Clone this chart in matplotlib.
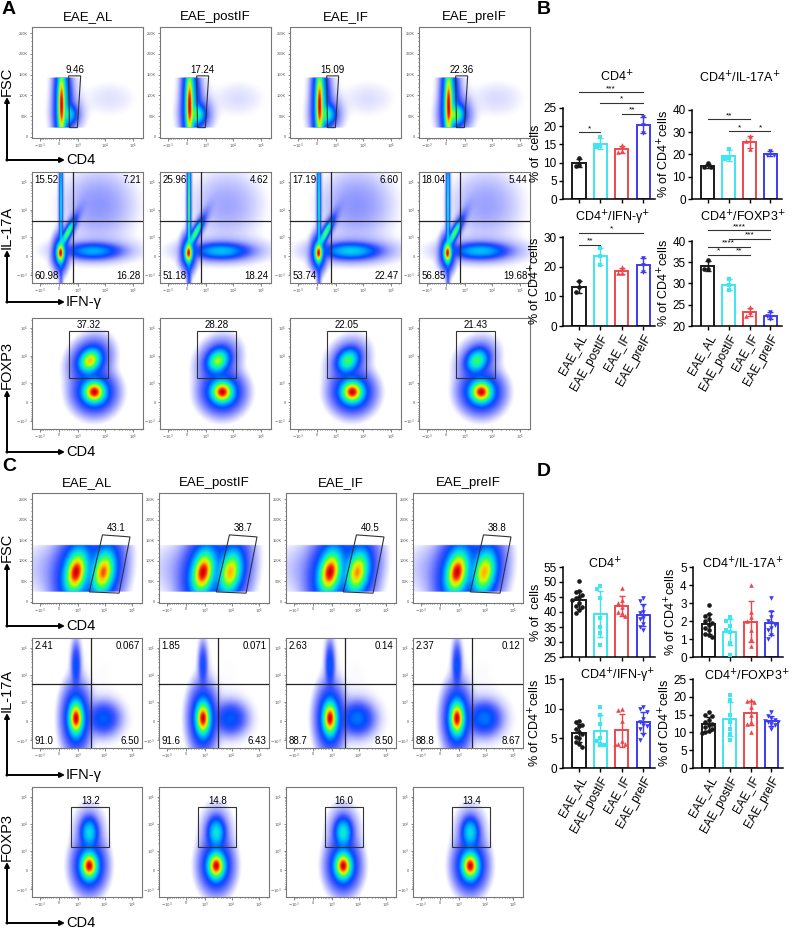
import numpy as np
import matplotlib
matplotlib.use("Agg")
import matplotlib.pyplot as plt
from matplotlib.colors import LinearSegmentedColormap
from matplotlib.patches import Polygon

plt.rcParams["font.family"] = ["Liberation Sans", "DejaVu Sans"]

# ==========================================================
# Groups
# ==========================================================

groups = ["EAE_AL", "EAE_postIF", "EAE_IF", "EAE_preIF"]
group_colors = ["#1a1a1a", "#3ee6f0", "#f0464b", "#3c3cf0"]
group_markers = ["o", "s", "^", "v"]

# ==========================================================
# Flow cytometry gate frequencies (%)
# ==========================================================

A_cd4_gate = [9.46, 17.24, 15.09, 22.36]
A_ul = [15.52, 25.96, 17.19, 18.04]
A_ur = [7.21, 4.62, 6.60, 5.44]
A_ll = [60.98, 51.18, 53.74, 56.85]
A_lr = [16.28, 18.24, 22.47, 19.68]
A_foxp3_gate = [37.32, 28.28, 22.05, 21.43]

C_cd4_gate = ["43.1", "38.7", "40.5", "38.8"]
C_ul = ["2.41", "1.85", "2.63", "2.37"]
C_ur = ["0.067", "0.071", "0.14", "0.12"]
C_ll = ["91.0", "91.6", "88.7", "88.8"]
C_lr = ["6.50", "6.43", "8.50", "8.67"]
C_foxp3_gate = ["13.2", "14.8", "16.0", "13.4"]

# gates (data units)
A_cd4_gate_x = [380, 1250, 930, 420]
A_cd4_gate_y = [147e3, 147e3, 22e3, 22e3]
A_quad = (600, 3900)
A_foxp3_box = (400, 12000, 1550, 81000)

C_cd4_gate_x = [8300, 84000, 33500, 2730]
C_cd4_gate_y = [163e3, 158e3, 21e3, 24e3]
C_quad = (3280, 4670)
C_foxp3_box = (517, 15000, 1400, 43800)

# cell clouds: centre (data units), spread (axes fraction), tilt (deg)
A_fsc_cx = [90, 170, 376, 14600]
A_fsc_cy = [77e3, 80e3, 53e3, 91e3]
A_fsc_sx = [0.016, 0.035, 0.035, 0.17]
A_fsc_sy = [0.15, 0.15, 0.04, 0.11]

A_il17_cx = [54, 330, 70, 3600, 5760]
A_il17_cy = [110, 1400, 14600, 180, 14600]
A_il17_sx = [0.016, 0.013, 0.006, 0.11, 0.18]
A_il17_sy = [0.04, 0.06, 0.25, 0.032, 0.18]
A_il17_tilt = [0, 27, 0, 0, 0]

A_foxp3_cx = [4000, 2800]
A_foxp3_cy = [380, 6300]
A_foxp3_sx = [0.045, 0.04]
A_foxp3_sy = [0.045, 0.05]
A_foxp3_tilt = [0, 35]

C_fsc_cx = [850, 9000, 300]
C_fsc_cy = [72e3, 72e3, 80e3]
C_fsc_sx = [0.045, 0.045, 0.2]
C_fsc_sy = [0.09, 0.09, 0.15]
C_fsc_tilt = [10, 10, 0]

C_il17_cx = [850, 850, 9000, 8000]
C_il17_cy = [106, 23000, 100, 20000]
C_il17_sx = [0.03, 0.02, 0.07, 0.15]
C_il17_sy = [0.07, 0.1, 0.07, 0.15]

C_foxp3_cx = [2730, 2730]
C_foxp3_cy = [151, 4800]
C_foxp3_sx = [0.035, 0.035]
C_foxp3_sy = [0.055, 0.06]

# ==========================================================
# Bar chart values (% of cells, one value per mouse)
# ==========================================================

B_cd4 = [[11.3, 9.4, 9.2], [17.0, 14.5, 14.2], [14.8, 13.2, 12.9], [22.5, 20.4, 18.2]]
B_il17 = [[16.0, 14.6, 14.3], [22.4, 18.3, 17.9], [28.2, 26.2, 22.6], [21.6, 19.9, 19.6]]
B_ifng = [[15.3, 13.0, 11.4], [26.3, 23.5, 20.6], [19.8, 17.9, 17.8], [22.8, 20.5, 18.3]]
B_foxp3 = [[35.6, 33.3, 33.5], [31.0, 29.6, 28.4], [24.4, 23.2, 22.4], [23.3, 22.4, 21.7]]

B_cd4_sig = [(0, 1, 18.3, "*"), (0, 3, 29.3, "***"), (1, 3, 26.4, "*"), (2, 3, 23.4, "**")]
B_il17_sig = [(0, 2, 35.8, "**"), (1, 2, 30.4, "*"), (2, 3, 30.4, "*")]
B_ifng_sig = [(0, 1, 27.4, "**"), (0, 3, 31.3, "*")]
B_foxp3_sig = [(0, 3, 42.5, "****"), (1, 3, 40.4, "***"), (0, 2, 38.6, "****"),
               (0, 1, 36.7, "*"), (1, 2, 36.7, "**")]

D_cd4 = [[50.2, 47, 46.5, 45.5, 45, 44.5, 44, 43, 42, 41.5, 40.5, 39.5],
         [48.5, 47.5, 44.5, 38, 35, 33, 29],
         [48, 44, 43, 41.5, 40, 39.5, 38.5],
         [44.5, 43.5, 42, 40, 39.5, 38, 37.5, 36, 35, 34]]
D_il17 = [[2.9, 2.4, 2.3, 2.1, 2.0, 1.9, 1.8, 1.6, 1.5, 1.3, 1.2, 1.1],
          [2.2, 2.0, 1.7, 1.5, 1.4, 0.8, 0.1],
          [4.0, 2.5, 2.2, 2.0, 1.5, 1.0, 0.6],
          [3.3, 2.5, 2.2, 2.0, 1.9, 1.8, 1.6, 1.5, 1.2, 1.0]]
D_ifng = [[8.0, 7.7, 7.3, 7.0, 6.5, 6.0, 5.8, 5.2, 5.0, 4.3, 4.0, 3.5],
          [10.2, 9.0, 7.5, 5.0, 4.5, 4.0, 3.8],
          [10.0, 9.8, 8.0, 4.5, 4.0, 4.0, 4.0],
          [10.2, 10.0, 9.5, 8.2, 7.8, 7.2, 7.0, 6.5, 5.5, 4.8]]
D_foxp3 = [[15.8, 15.0, 14.5, 13.5, 13.0, 12.5, 12.0, 11.5, 11.0, 10.5, 10.0, 9.8],
           [20.5, 19.0, 15.0, 13.0, 11.0, 9.5, 8.0],
           [19.0, 18.8, 18.5, 17.0, 15.0, 13.0, 12.5, 10.0],
           [15.8, 14.5, 14.0, 13.5, 13.2, 13.0, 12.8, 12.5, 12.0, 11.0]]

# ==========================================================
# Figure
# ==========================================================

W, H = 794, 930
fig = plt.figure(figsize=(W / 100, H / 100), dpi=100)


def px_axes(x0, y0, w, h):
    return fig.add_axes([x0 / W, 1 - (y0 + h) / H, w / W, h / H])


overlay = fig.add_axes([0, 0, 1, 1], zorder=10)
overlay.set_xlim(0, W)
overlay.set_ylim(H, 0)
overlay.axis("off")
overlay.patch.set_alpha(0)

# ==========================================================
# Flow scales
# ==========================================================

LIM = (-1950, 2.3e5)
FSC_LIM = (-3e3, 265e3)


def fwd(v):
    return np.arcsinh(np.asarray(v, float) / 420) / np.log(10)


def inv(u):
    return 420 * np.sinh(np.asarray(u, float) * np.log(10))


def frac_x(x):
    return (fwd(x) - fwd(LIM[0])) / (fwd(LIM[1]) - fwd(LIM[0]))


def frac_y(y, fsc):
    if fsc:
        return (y - FSC_LIM[0]) / (FSC_LIM[1] - FSC_LIM[0])
    return frac_x(y)


flow_cmap = LinearSegmentedColormap.from_list(
    "flow", [(0.0, "#0000ff"), (0.15, "#0020ff"), (0.32, "#00a0ff"), (0.45, "#00e8e0"),
             (0.58, "#30ff60"), (0.72, "#d0ff00"), (0.82, "#ffc000"),
             (0.92, "#ff3000"), (1.0, "#d00000")])

LOG_TICKS = [-1e3, 0, 1e3, 1e4, 1e5]
LOG_LABELS = [r"$-10^3$", "0", r"$10^3$", r"$10^4$", r"$10^5$"]
LOG_MINOR = ([-m * 100 for m in range(1, 10)] + [m * 100 for m in range(1, 10)]
             + [m * 1e3 for m in range(2, 10)] + [m * 1e4 for m in range(2, 10)] + [2e5])
FSC_TICKS = [0, 50e3, 100e3, 150e3, 200e3, 250e3]
FSC_LABELS = ["0", "50K", "100K", "150K", "200K", "250K"]


def flow_axes(x0, y0, w, fsc=False):
    ax = px_axes(x0, y0, w, w)
    ax.set_xscale("function", functions=(fwd, inv))
    ax.set_xlim(*LIM)
    ax.set_xticks(LOG_TICKS)
    ax.set_xticklabels(LOG_LABELS)
    ax.set_xticks(LOG_MINOR, minor=True)
    if fsc:
        ax.set_ylim(*FSC_LIM)
        ax.set_yticks(FSC_TICKS)
        ax.set_yticklabels(FSC_LABELS)
        ax.set_yticks(np.arange(10e3, 260e3, 10e3), minor=True)
    else:
        ax.set_yscale("function", functions=(fwd, inv))
        ax.set_ylim(*LIM)
        ax.set_yticks(LOG_TICKS)
        ax.set_yticklabels(LOG_LABELS)
        ax.set_yticks(LOG_MINOR, minor=True)
    ax.tick_params(which="both", direction="out", length=1.8, width=0.5,
                   labelsize=2.8, pad=1.0, colors="#555")
    ax.tick_params(which="minor", length=1.0)
    for sp in ax.spines.values():
        sp.set_color("#777")
        sp.set_linewidth(0.8)
    return ax


def draw_cloud(ax, cx, cy, sx, sy, tilt, share, fsc=False, ycut=None,
               halo_part=0.2, halo_width=2.1):
    g = np.linspace(0, 1, 300)
    gu, gv = np.meshgrid(g, g)
    dens = np.zeros_like(gu)
    for x, y, a_s, b_s, t, s in zip(cx, cy, sx, sy, tilt, share):
        du = gu - frac_x(x)
        dv = gv - frac_y(y, fsc)
        tr = np.radians(t)
        a = du * np.cos(tr) - dv * np.sin(tr)
        b = du * np.sin(tr) + dv * np.cos(tr)
        r2 = (a / a_s) ** 2 + (b / b_s) ** 2
        core = np.exp(-0.5 * r2) / (a_s * b_s)
        halo = np.exp(-0.5 * r2 / halo_width ** 2) / (a_s * b_s * halo_width ** 2)
        dens += s * ((1 - halo_part) * core + halo_part * halo)
    if ycut is not None:
        lo, hi = frac_y(ycut[0], fsc), frac_y(ycut[1], fsc)
        dens[(gv < lo) | (gv > hi)] = 0
    rel = np.maximum(dens / dens.max(), 1e-9)
    rgba = flow_cmap(rel ** 0.42)
    rgba[..., 3] = np.clip((np.log10(rel) + 3.6) / 2.0, 0, 1) ** 1.5
    ax.imshow(rgba, extent=(0, 1, 0, 1), origin="lower", transform=ax.transAxes,
              aspect="auto", interpolation="bilinear", zorder=1)


def mid(a, b):
    return float(inv((fwd(a) + fwd(b)) / 2))


def quad_labels(ax, ul, ur, ll, lr):
    kw = dict(transform=ax.transAxes, fontsize=7, zorder=5)
    ax.text(0.02, 0.975, ul, ha="left", va="top", **kw)
    ax.text(0.98, 0.975, ur, ha="right", va="top", **kw)
    ax.text(0.02, 0.02, ll, ha="left", va="bottom", **kw)
    ax.text(0.98, 0.02, lr, ha="right", va="bottom", **kw)


def gate_poly(ax, gx, gy):
    ax.add_patch(Polygon(list(zip(gx, gy)), closed=True, fill=False,
                         ec="#333", lw=0.8, zorder=4))


def gate_box(ax, box):
    x1, x2, y1, y2 = box
    ax.add_patch(Polygon([(x1, y1), (x2, y1), (x2, y2), (x1, y2)], closed=True,
                         fill=False, ec="#333", lw=0.8, zorder=4))


# ==========================================================
# Panel A
# ==========================================================

A_x0 = [32, 160, 290, 419]
A_rows = [27, 172, 318]
FW = 111

for i, g in enumerate(groups):
    overlay.text(A_x0[i] + FW / 2, 17, g, ha="center", va="center", fontsize=9.5)

    ax = flow_axes(A_x0[i], A_rows[0], FW, fsc=True)
    gate = A_cd4_gate[i]
    draw_cloud(ax, A_fsc_cx, A_fsc_cy, A_fsc_sx, A_fsc_sy, [0, 0, 0, 0],
               [100 - gate - 12, 12, 0.6 * gate, 0.5], fsc=True, ycut=(22e3, 142e3))
    ax.set_xlim(*LIM); ax.set_ylim(*FSC_LIM)
    gate_poly(ax, A_cd4_gate_x, A_cd4_gate_y)
    ax.text(mid(A_cd4_gate_x[0], A_cd4_gate_x[1]), 150e3, f"{gate:.2f}",
            ha="center", va="bottom", fontsize=7)

    ax = flow_axes(A_x0[i], A_rows[1], FW)
    draw_cloud(ax, A_il17_cx, A_il17_cy, A_il17_sx, A_il17_sy, A_il17_tilt,
               [0.6 * A_ll[i], 0.25 * A_ll[i], A_ul[i], A_lr[i], A_ur[i]])
    ax.set_xlim(*LIM); ax.set_ylim(*LIM)
    ax.axvline(A_quad[0], color="#222", lw=0.9, zorder=4)
    ax.axhline(A_quad[1], color="#222", lw=0.9, zorder=4)
    quad_labels(ax, f"{A_ul[i]:.2f}", f"{A_ur[i]:.2f}", f"{A_ll[i]:.2f}", f"{A_lr[i]:.2f}")

    ax = flow_axes(A_x0[i], A_rows[2], FW)
    fp = A_foxp3_gate[i]
    draw_cloud(ax, A_foxp3_cx, A_foxp3_cy, A_foxp3_sx, A_foxp3_sy, A_foxp3_tilt,
               [100 - fp, fp])
    ax.set_xlim(*LIM); ax.set_ylim(*LIM)
    gate_box(ax, A_foxp3_box)
    ax.text(mid(A_foxp3_box[0], A_foxp3_box[1]), A_foxp3_box[3] * 1.08, f"{fp:.2f}",
            ha="center", va="bottom", fontsize=7)

# ==========================================================
# Panel C
# ==========================================================

C_x0 = [32, 159, 286, 413]
C_rows = [493, 638, 787]
CW = 110

for i, g in enumerate(groups):
    overlay.text(C_x0[i] + CW / 2, 483, g, ha="center", va="center", fontsize=9.5)

    ax = flow_axes(C_x0[i], C_rows[0], CW, fsc=True)
    gate = float(C_cd4_gate[i])
    draw_cloud(ax, C_fsc_cx, C_fsc_cy, C_fsc_sx, C_fsc_sy, C_fsc_tilt,
               [100 - gate - 1.5, gate, 1.5], fsc=True, ycut=(24e3, 138e3))
    ax.set_xlim(*LIM); ax.set_ylim(*FSC_LIM)
    gate_poly(ax, C_cd4_gate_x, C_cd4_gate_y)
    ax.text(mid(C_cd4_gate_x[0], C_cd4_gate_x[1]), 168e3, C_cd4_gate[i],
            ha="center", va="bottom", fontsize=7)

    ax = flow_axes(C_x0[i], C_rows[1], CW)
    draw_cloud(ax, C_il17_cx, C_il17_cy, C_il17_sx, C_il17_sy, [0, 0, 0, 0],
               [float(C_ll[i]), float(C_ul[i]), float(C_lr[i]), 0.3])
    ax.set_xlim(*LIM); ax.set_ylim(*LIM)
    ax.axvline(C_quad[0], color="#222", lw=0.9, zorder=4)
    ax.axhline(C_quad[1], color="#222", lw=0.9, zorder=4)
    quad_labels(ax, C_ul[i], C_ur[i], C_ll[i], C_lr[i])

    ax = flow_axes(C_x0[i], C_rows[2], CW)
    fp = float(C_foxp3_gate[i])
    draw_cloud(ax, C_foxp3_cx, C_foxp3_cy, C_foxp3_sx, C_foxp3_sy, [0, 0],
               [100 - fp, fp])
    ax.set_xlim(*LIM); ax.set_ylim(*LIM)
    gate_box(ax, C_foxp3_box)
    ax.text(mid(C_foxp3_box[0], C_foxp3_box[1]), C_foxp3_box[3] * 1.1, C_foxp3_gate[i],
            ha="center", va="bottom", fontsize=7)

# ==========================================================
# L-shaped axis arrows
# ==========================================================

arrow_rows = [(160, 97, "FSC", "CD4"), (302, 250, "IL-17A", "IFN-γ"),
              (452, 390, "FOXP3", "CD4"), (626, 563, "FSC", "CD4"),
              (775, 713, "IL-17A", "IFN-γ"), (923, 862, "FOXP3", "CD4")]

for corner, top, ylab, xlab in arrow_rows:
    ap = dict(arrowstyle="-|>", lw=1.4, color="k", mutation_scale=7,
              shrinkA=0, shrinkB=0)
    overlay.annotate("", xy=(7, top), xytext=(7, corner + 0.7), arrowprops=ap)
    overlay.annotate("", xy=(65, corner), xytext=(6.3, corner), arrowprops=ap)
    overlay.text(7, top - 1, ylab, rotation=90, ha="center", va="bottom", fontsize=10.5)
    overlay.text(66, corner, xlab, ha="left", va="center", fontsize=10.5)

for letter, (lx, ly) in zip("ABCD", [(2, 9), (537, 9), (2, 466), (537, 471)]):
    overlay.text(lx, ly, letter, fontsize=14, fontweight="bold", ha="left", va="center")

# ==========================================================
# Bar charts
# ==========================================================


def swarm(vals, span, step=0.16, near=0.055):
    vals = np.asarray(vals, float)
    offs = np.zeros(len(vals))
    cands = [0.0]
    for k in range(1, 5):
        cands += [-k * step, k * step]
    placed = []
    for i in np.argsort(-vals):
        for c in cands:
            if all(abs(c - offs[j]) >= step * 0.95 or abs(vals[i] - vals[j]) / span >= near
                   for j in placed):
                break
        offs[i] = c
        placed.append(i)
    return offs


def bar_panel(rect, data, ylim, yticks, title, title_xy, ylabel, sigs=(), xlabels=False):
    ax = px_axes(*rect)
    span = ylim[1] - ylim[0]
    for i, vals in enumerate(data):
        m = np.mean(vals)
        sd = np.std(vals, ddof=1)
        c = group_colors[i]
        ax.bar(i, m, width=0.62, facecolor="white", edgecolor=c, lw=1.4, zorder=2)
        ax.errorbar(i, m, yerr=sd, color=c, capsize=2.5, lw=1.0, capthick=1.0, zorder=3)
        ax.scatter(i + swarm(vals, span), vals, marker=group_markers[i], s=11,
                   color=c, zorder=4, clip_on=False, linewidths=0)
    for a, b, y, stars in sigs:
        ax.plot([a, b], [y, y], color="#333", lw=0.8, clip_on=False)
        ax.text((a + b) / 2, y + span * 0.005, stars, ha="center", va="bottom",
                fontsize=6, clip_on=False)
    ax.set_xlim(-0.75, 3.55)
    ax.set_ylim(*ylim)
    ax.set_yticks(yticks)
    ax.set_xticks(range(4))
    if xlabels:
        ax.set_xticklabels(groups, rotation=60, ha="right", rotation_mode="anchor",
                           fontsize=8.5)
    else:
        ax.set_xticklabels([])
    ax.tick_params(labelsize=8.5, length=3, width=1, pad=1.5)
    for s in ["top", "right"]:
        ax.spines[s].set_visible(False)
    for s in ["left", "bottom"]:
        ax.spines[s].set_linewidth(1.1)
    ax.set_ylabel(ylabel, fontsize=9, labelpad=1)
    overlay.text(title_xy[0], title_xy[1], title, ha="center", va="center", fontsize=9)
    return ax


pct_cd4 = "% of CD4$^{+}$cells"

bar_panel((563, 108, 92, 91), B_cd4, (0, 25), range(0, 26, 5), "CD4$^{+}$",
          (617, 77), "% of  cells", B_cd4_sig)
bar_panel((692, 110, 90, 89), B_il17, (0, 40), range(0, 41, 10),
          "CD4$^{+}$/IL-17A$^{+}$", (740, 78), pct_cd4, B_il17_sig)
bar_panel((563, 237, 92, 89), B_ifng, (0, 30), range(0, 31, 10),
          "CD4$^{+}$/IFN-γ$^{+}$", (613, 218), pct_cd4, B_ifng_sig, xlabels=True)
bar_panel((692, 241, 90, 85), B_foxp3, (20, 40), range(20, 41, 5),
          "CD4$^{+}$/FOXP3$^{+}$", (743, 217), pct_cd4, B_foxp3_sig, xlabels=True)

bar_panel((563, 567, 92, 90), D_cd4, (25, 55), range(25, 56, 5), "CD4$^{+}$",
          (605, 564), "% of  cells")
bar_panel((693, 567, 90, 90), D_il17, (0, 5), range(0, 6), "CD4$^{+}$/IL-17A$^{+}$",
          (743, 564), pct_cd4)
bar_panel((563, 679, 92, 89), D_ifng, (0, 15), range(0, 16, 5), "CD4$^{+}$/IFN-γ$^{+}$",
          (618, 676), pct_cd4, xlabels=True)
bar_panel((693, 679, 90, 89), D_foxp3, (0, 25), range(0, 26, 5), "CD4$^{+}$/FOXP3$^{+}$",
          (747, 676), pct_cd4, xlabels=True)

fig.savefig("out.png", dpi=100)
